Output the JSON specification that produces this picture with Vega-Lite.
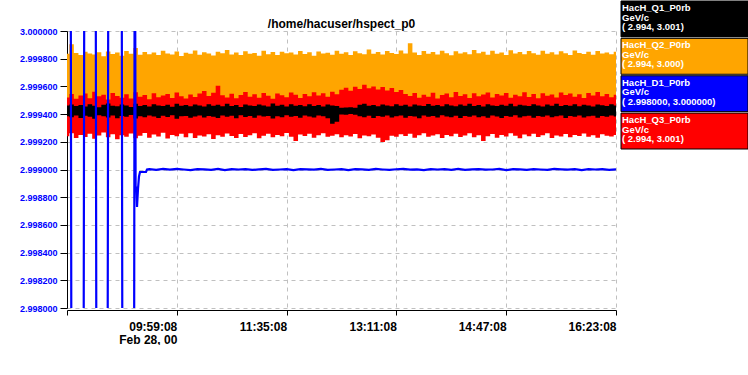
{
  "$schema": "https://vega.github.io/schema/vega-lite/v6.json",
  "padding": {"left": 19, "top": 0, "right": 0, "bottom": 0},
  "config": {
    "view": {"stroke": null},
    "font": "Liberation Sans",
    "concat": {"spacing": 3}
  },
  "datasets": {
    "bands": [
      {"t":"2000-02-28T08:23:08","oh":2.999835,"ol":2.99949,"rh":2.99952,"rl":2.99924,"kh":2.999462,"kl":2.999385},
      {"t":"2000-02-28T08:27:08","oh":2.999905,"ol":2.999485,"rh":2.999545,"rl":2.999262,"kh":2.99947,"kl":2.999378},
      {"t":"2000-02-28T08:31:08","oh":2.999842,"ol":2.999492,"rh":2.99951,"rl":2.999228,"kh":2.999458,"kl":2.99939},
      {"t":"2000-02-28T08:35:08","oh":2.999826,"ol":2.999488,"rh":2.999535,"rl":2.99925,"kh":2.999466,"kl":2.999372},
      {"t":"2000-02-28T08:39:08","oh":2.99985,"ol":2.999495,"rh":2.999548,"rl":2.999235,"kh":2.999455,"kl":2.999388},
      {"t":"2000-02-28T08:43:08","oh":2.999838,"ol":2.99948,"rh":2.999515,"rl":2.999258,"kh":2.999472,"kl":2.99938},
      {"t":"2000-02-28T08:47:08","oh":2.99983,"ol":2.99949,"rh":2.999562,"rl":2.999222,"kh":2.99946,"kl":2.999366},
      {"t":"2000-02-28T08:51:08","oh":2.999846,"ol":2.999486,"rh":2.999528,"rl":2.999245,"kh":2.99945,"kl":2.999392},
      {"t":"2000-02-28T08:55:08","oh":2.999818,"ol":2.999494,"rh":2.99954,"rl":2.999268,"kh":2.999468,"kl":2.999384},
      {"t":"2000-02-28T08:59:08","oh":2.999852,"ol":2.999482,"rh":2.999506,"rl":2.999232,"kh":2.999476,"kl":2.999375},
      {"t":"2000-02-28T09:03:08","oh":2.999834,"ol":2.99949,"rh":2.999552,"rl":2.999255,"kh":2.999461,"kl":2.999389},
      {"t":"2000-02-28T09:07:08","oh":2.999844,"ol":2.999488,"rh":2.99953,"rl":2.999218,"kh":2.999457,"kl":2.99937},
      {"t":"2000-02-28T09:11:08","oh":2.999822,"ol":2.999492,"rh":2.999518,"rl":2.999248,"kh":2.999469,"kl":2.999386},
      {"t":"2000-02-28T09:15:08","oh":2.999856,"ol":2.999484,"rh":2.999544,"rl":2.999236,"kh":2.999463,"kl":2.999381},
      {"t":"2000-02-28T09:19:08","oh":2.999836,"ol":2.99949,"rh":2.999512,"rl":2.99926,"kh":2.999452,"kl":2.999393},
      {"t":"2000-02-28T09:23:08","oh":2.999878,"ol":2.999486,"rh":2.999558,"rl":2.999226,"kh":2.999474,"kl":2.999368},
      {"t":"2000-02-28T09:27:08","oh":2.999828,"ol":2.999494,"rh":2.999526,"rl":2.999244,"kh":2.999459,"kl":2.999385},
      {"t":"2000-02-28T09:31:08","oh":2.999848,"ol":2.999482,"rh":2.999538,"rl":2.999264,"kh":2.999466,"kl":2.999377},
      {"t":"2000-02-28T09:35:08","oh":2.999832,"ol":2.99949,"rh":2.999508,"rl":2.99923,"kh":2.999455,"kl":2.99939},
      {"t":"2000-02-28T09:39:08","oh":2.999845,"ol":2.999488,"rh":2.99955,"rl":2.999252,"kh":2.999471,"kl":2.999382},
      {"t":"2000-02-28T09:43:08","oh":2.999826,"ol":2.999492,"rh":2.999522,"rl":2.999238,"kh":2.999462,"kl":2.999372},
      {"t":"2000-02-28T09:47:08","oh":2.999858,"ol":2.999484,"rh":2.999534,"rl":2.999266,"kh":2.999458,"kl":2.999388},
      {"t":"2000-02-28T09:51:08","oh":2.999838,"ol":2.99949,"rh":2.999546,"rl":2.999224,"kh":2.999468,"kl":2.999379},
      {"t":"2000-02-28T09:55:08","oh":2.99983,"ol":2.999486,"rh":2.999516,"rl":2.99925,"kh":2.999453,"kl":2.999391},
      {"t":"2000-02-28T09:59:08","oh":2.999852,"ol":2.999494,"rh":2.999556,"rl":2.99924,"kh":2.999475,"kl":2.999366},
      {"t":"2000-02-28T10:03:08","oh":2.99982,"ol":2.999482,"rh":2.999528,"rl":2.999258,"kh":2.99946,"kl":2.999384},
      {"t":"2000-02-28T10:07:08","oh":2.999843,"ol":2.99949,"rh":2.999512,"rl":2.999232,"kh":2.999465,"kl":2.999387},
      {"t":"2000-02-28T10:11:08","oh":2.999835,"ol":2.999488,"rh":2.999542,"rl":2.999262,"kh":2.999457,"kl":2.999374},
      {"t":"2000-02-28T10:15:08","oh":2.99986,"ol":2.999492,"rh":2.999524,"rl":2.999228,"kh":2.99947,"kl":2.999383},
      {"t":"2000-02-28T10:19:08","oh":2.999829,"ol":2.999484,"rh":2.999548,"rl":2.999246,"kh":2.999463,"kl":2.99939},
      {"t":"2000-02-28T10:23:08","oh":2.999847,"ol":2.99949,"rh":2.999566,"rl":2.999238,"kh":2.999455,"kl":2.999376},
      {"t":"2000-02-28T10:27:08","oh":2.999837,"ol":2.999486,"rh":2.99953,"rl":2.999254,"kh":2.999472,"kl":2.999386},
      {"t":"2000-02-28T10:31:08","oh":2.999824,"ol":2.999494,"rh":2.999554,"rl":2.99922,"kh":2.999461,"kl":2.99938},
      {"t":"2000-02-28T10:35:08","oh":2.99985,"ol":2.999482,"rh":2.999605,"rl":2.999248,"kh":2.999468,"kl":2.999372},
      {"t":"2000-02-28T10:39:08","oh":2.99984,"ol":2.99949,"rh":2.999536,"rl":2.999236,"kh":2.999456,"kl":2.999389},
      {"t":"2000-02-28T10:43:08","oh":2.999862,"ol":2.999488,"rh":2.99952,"rl":2.99926,"kh":2.999474,"kl":2.999381},
      {"t":"2000-02-28T10:47:08","oh":2.999831,"ol":2.999492,"rh":2.999547,"rl":2.999242,"kh":2.999459,"kl":2.999388},
      {"t":"2000-02-28T10:51:08","oh":2.999845,"ol":2.999484,"rh":2.999514,"rl":2.999228,"kh":2.999466,"kl":2.99937},
      {"t":"2000-02-28T10:55:08","oh":2.999827,"ol":2.99949,"rh":2.999538,"rl":2.999256,"kh":2.999452,"kl":2.999392},
      {"t":"2000-02-28T10:59:08","oh":2.999854,"ol":2.999486,"rh":2.99956,"rl":2.999234,"kh":2.99947,"kl":2.999379},
      {"t":"2000-02-28T11:03:08","oh":2.999836,"ol":2.999494,"rh":2.999526,"rl":2.999248,"kh":2.999462,"kl":2.999386},
      {"t":"2000-02-28T11:07:08","oh":2.999842,"ol":2.999482,"rh":2.999544,"rl":2.999262,"kh":2.999458,"kl":2.999374},
      {"t":"2000-02-28T11:11:08","oh":2.999822,"ol":2.99949,"rh":2.999518,"rl":2.999226,"kh":2.999469,"kl":2.99939},
      {"t":"2000-02-28T11:15:08","oh":2.999857,"ol":2.999488,"rh":2.999552,"rl":2.999244,"kh":2.999463,"kl":2.999383},
      {"t":"2000-02-28T11:19:08","oh":2.999833,"ol":2.999492,"rh":2.999532,"rl":2.999258,"kh":2.999455,"kl":2.999387},
      {"t":"2000-02-28T11:23:08","oh":2.999848,"ol":2.999484,"rh":2.99951,"rl":2.999232,"kh":2.999476,"kl":2.999368},
      {"t":"2000-02-28T11:27:08","oh":2.999826,"ol":2.99949,"rh":2.999548,"rl":2.99925,"kh":2.99946,"kl":2.999385},
      {"t":"2000-02-28T11:31:08","oh":2.999851,"ol":2.999486,"rh":2.999536,"rl":2.99924,"kh":2.999467,"kl":2.999378},
      {"t":"2000-02-28T11:35:08","oh":2.999839,"ol":2.999494,"rh":2.999522,"rl":2.999264,"kh":2.999454,"kl":2.999391},
      {"t":"2000-02-28T11:39:08","oh":2.999844,"ol":2.999482,"rh":2.999556,"rl":2.999236,"kh":2.999472,"kl":2.99938},
      {"t":"2000-02-28T11:43:08","oh":2.99983,"ol":2.99949,"rh":2.99954,"rl":2.999205,"kh":2.999461,"kl":2.999386},
      {"t":"2000-02-28T11:47:08","oh":2.999855,"ol":2.999488,"rh":2.999516,"rl":2.999252,"kh":2.999465,"kl":2.999373},
      {"t":"2000-02-28T11:51:08","oh":2.999834,"ol":2.999492,"rh":2.999545,"rl":2.999242,"kh":2.999457,"kl":2.999389},
      {"t":"2000-02-28T11:55:08","oh":2.999846,"ol":2.999484,"rh":2.999528,"rl":2.999258,"kh":2.999471,"kl":2.999382},
      {"t":"2000-02-28T11:59:08","oh":2.999821,"ol":2.99949,"rh":2.999558,"rl":2.99923,"kh":2.999459,"kl":2.999376},
      {"t":"2000-02-28T12:03:08","oh":2.999852,"ol":2.999486,"rh":2.999534,"rl":2.999248,"kh":2.999466,"kl":2.99939},
      {"t":"2000-02-28T12:07:08","oh":2.999838,"ol":2.999494,"rh":2.99955,"rl":2.999262,"kh":2.999455,"kl":2.999384},
      {"t":"2000-02-28T12:11:08","oh":2.999843,"ol":2.999482,"rh":2.999526,"rl":2.999236,"kh":2.99947,"kl":2.99937},
      {"t":"2000-02-28T12:15:08","oh":2.999829,"ol":2.99949,"rh":2.999562,"rl":2.999244,"kh":2.999462,"kl":2.99933},
      {"t":"2000-02-28T12:19:08","oh":2.999858,"ol":2.999488,"rh":2.999544,"rl":2.999254,"kh":2.999458,"kl":2.999345},
      {"t":"2000-02-28T12:23:08","oh":2.999836,"ol":2.999492,"rh":2.999575,"rl":2.999232,"kh":2.999446,"kl":2.999398},
      {"t":"2000-02-28T12:27:08","oh":2.999847,"ol":2.999484,"rh":2.99959,"rl":2.999248,"kh":2.999448,"kl":2.999396},
      {"t":"2000-02-28T12:31:08","oh":2.999826,"ol":2.99949,"rh":2.999568,"rl":2.999238,"kh":2.99945,"kl":2.9994},
      {"t":"2000-02-28T12:35:08","oh":2.999853,"ol":2.999486,"rh":2.999598,"rl":2.999256,"kh":2.999445,"kl":2.999395},
      {"t":"2000-02-28T12:39:08","oh":2.99984,"ol":2.999494,"rh":2.999582,"rl":2.999226,"kh":2.999468,"kl":2.999384},
      {"t":"2000-02-28T12:43:08","oh":2.999832,"ol":2.999482,"rh":2.999612,"rl":2.999246,"kh":2.999474,"kl":2.999378},
      {"t":"2000-02-28T12:47:08","oh":2.999866,"ol":2.99949,"rh":2.999586,"rl":2.99924,"kh":2.99946,"kl":2.999388},
      {"t":"2000-02-28T12:51:08","oh":2.999835,"ol":2.999488,"rh":2.9996,"rl":2.999252,"kh":2.999465,"kl":2.999372},
      {"t":"2000-02-28T12:55:08","oh":2.999848,"ol":2.999492,"rh":2.999578,"rl":2.99923,"kh":2.999457,"kl":2.999386},
      {"t":"2000-02-28T12:59:08","oh":2.99983,"ol":2.999484,"rh":2.999595,"rl":2.999198,"kh":2.99947,"kl":2.99938},
      {"t":"2000-02-28T13:03:08","oh":2.999855,"ol":2.99949,"rh":2.99957,"rl":2.999212,"kh":2.999463,"kl":2.999389},
      {"t":"2000-02-28T13:07:08","oh":2.999841,"ol":2.999486,"rh":2.999588,"rl":2.999244,"kh":2.999456,"kl":2.999376},
      {"t":"2000-02-28T13:11:08","oh":2.999834,"ol":2.999494,"rh":2.99956,"rl":2.999236,"kh":2.999472,"kl":2.999384},
      {"t":"2000-02-28T13:15:08","oh":2.99986,"ol":2.999482,"rh":2.999574,"rl":2.999254,"kh":2.999461,"kl":2.99939},
      {"t":"2000-02-28T13:19:08","oh":2.999838,"ol":2.99949,"rh":2.999546,"rl":2.999242,"kh":2.999467,"kl":2.999374},
      {"t":"2000-02-28T13:23:08","oh":2.999912,"ol":2.999488,"rh":2.99953,"rl":2.999258,"kh":2.999455,"kl":2.999387},
      {"t":"2000-02-28T13:27:08","oh":2.999844,"ol":2.999492,"rh":2.999552,"rl":2.99923,"kh":2.999469,"kl":2.999382},
      {"t":"2000-02-28T13:31:08","oh":2.999827,"ol":2.999484,"rh":2.999518,"rl":2.999248,"kh":2.999462,"kl":2.99937},
      {"t":"2000-02-28T13:35:08","oh":2.999856,"ol":2.99949,"rh":2.99954,"rl":2.999262,"kh":2.999458,"kl":2.999389},
      {"t":"2000-02-28T13:39:08","oh":2.999836,"ol":2.999486,"rh":2.999526,"rl":2.999236,"kh":2.999473,"kl":2.99938},
      {"t":"2000-02-28T13:43:08","oh":2.999849,"ol":2.999494,"rh":2.999554,"rl":2.999246,"kh":2.99946,"kl":2.999386},
      {"t":"2000-02-28T13:47:08","oh":2.999831,"ol":2.999482,"rh":2.999512,"rl":2.999254,"kh":2.999466,"kl":2.999375},
      {"t":"2000-02-28T13:51:08","oh":2.999858,"ol":2.99949,"rh":2.999538,"rl":2.999228,"kh":2.999456,"kl":2.999391},
      {"t":"2000-02-28T13:55:08","oh":2.99984,"ol":2.999488,"rh":2.999548,"rl":2.99925,"kh":2.999471,"kl":2.999383},
      {"t":"2000-02-28T13:59:08","oh":2.999825,"ol":2.999492,"rh":2.999522,"rl":2.99924,"kh":2.999463,"kl":2.999378},
      {"t":"2000-02-28T14:03:08","oh":2.999853,"ol":2.999484,"rh":2.99956,"rl":2.999258,"kh":2.999457,"kl":2.999388},
      {"t":"2000-02-28T14:07:08","oh":2.999837,"ol":2.99949,"rh":2.99953,"rl":2.999234,"kh":2.999469,"kl":2.999372},
      {"t":"2000-02-28T14:11:08","oh":2.999846,"ol":2.999486,"rh":2.999544,"rl":2.999246,"kh":2.999461,"kl":2.999386},
      {"t":"2000-02-28T14:15:08","oh":2.999832,"ol":2.999494,"rh":2.999516,"rl":2.999262,"kh":2.999475,"kl":2.99938},
      {"t":"2000-02-28T14:19:08","oh":2.999862,"ol":2.999482,"rh":2.99955,"rl":2.999232,"kh":2.999459,"kl":2.99939},
      {"t":"2000-02-28T14:23:08","oh":2.999839,"ol":2.99949,"rh":2.999528,"rl":2.999248,"kh":2.999466,"kl":2.999377},
      {"t":"2000-02-28T14:27:08","oh":2.99985,"ol":2.999488,"rh":2.999542,"rl":2.999205,"kh":2.999455,"kl":2.999385},
      {"t":"2000-02-28T14:31:08","oh":2.999828,"ol":2.999492,"rh":2.999556,"rl":2.99924,"kh":2.999472,"kl":2.999374},
      {"t":"2000-02-28T14:35:08","oh":2.999857,"ol":2.999484,"rh":2.99952,"rl":2.999256,"kh":2.999462,"kl":2.999389},
      {"t":"2000-02-28T14:39:08","oh":2.999835,"ol":2.99949,"rh":2.999546,"rl":2.99923,"kh":2.999458,"kl":2.999382},
      {"t":"2000-02-28T14:43:08","oh":2.999845,"ol":2.999486,"rh":2.999534,"rl":2.99925,"kh":2.999468,"kl":2.999371},
      {"t":"2000-02-28T14:47:08","oh":2.999826,"ol":2.999494,"rh":2.999552,"rl":2.999238,"kh":2.99946,"kl":2.999387},
      {"t":"2000-02-28T14:51:08","oh":2.999861,"ol":2.999482,"rh":2.999518,"rl":2.999262,"kh":2.999474,"kl":2.99938},
      {"t":"2000-02-28T14:55:08","oh":2.999838,"ol":2.99949,"rh":2.99954,"rl":2.999244,"kh":2.999456,"kl":2.999391},
      {"t":"2000-02-28T14:59:08","oh":2.999848,"ol":2.999488,"rh":2.999528,"rl":2.999226,"kh":2.999467,"kl":2.999376},
      {"t":"2000-02-28T15:03:08","oh":2.999833,"ol":2.999492,"rh":2.999558,"rl":2.999252,"kh":2.999462,"kl":2.999385},
      {"t":"2000-02-28T15:07:08","oh":2.999855,"ol":2.999484,"rh":2.999524,"rl":2.99924,"kh":2.999458,"kl":2.999388},
      {"t":"2000-02-28T15:11:08","oh":2.99984,"ol":2.99949,"rh":2.999546,"rl":2.999258,"kh":2.999471,"kl":2.999373},
      {"t":"2000-02-28T15:15:08","oh":2.999829,"ol":2.999486,"rh":2.999514,"rl":2.999234,"kh":2.999463,"kl":2.999386},
      {"t":"2000-02-28T15:19:08","oh":2.999858,"ol":2.999494,"rh":2.99955,"rl":2.999248,"kh":2.999455,"kl":2.999381},
      {"t":"2000-02-28T15:23:08","oh":2.999836,"ol":2.999482,"rh":2.999532,"rl":2.999262,"kh":2.999469,"kl":2.99939},
      {"t":"2000-02-28T15:27:08","oh":2.999847,"ol":2.99949,"rh":2.999542,"rl":2.999228,"kh":2.999461,"kl":2.999377},
      {"t":"2000-02-28T15:31:08","oh":2.999831,"ol":2.999488,"rh":2.99952,"rl":2.999246,"kh":2.999474,"kl":2.999384},
      {"t":"2000-02-28T15:35:08","oh":2.999854,"ol":2.999492,"rh":2.999556,"rl":2.999238,"kh":2.999458,"kl":2.999389},
      {"t":"2000-02-28T15:39:08","oh":2.999839,"ol":2.999484,"rh":2.999538,"rl":2.999256,"kh":2.999466,"kl":2.999372},
      {"t":"2000-02-28T15:43:08","oh":2.999826,"ol":2.99949,"rh":2.999548,"rl":2.999232,"kh":2.99946,"kl":2.999387},
      {"t":"2000-02-28T15:47:08","oh":2.999859,"ol":2.999486,"rh":2.999526,"rl":2.99925,"kh":2.999471,"kl":2.99938},
      {"t":"2000-02-28T15:51:08","oh":2.999842,"ol":2.999494,"rh":2.999544,"rl":2.999242,"kh":2.999457,"kl":2.99939},
      {"t":"2000-02-28T15:55:08","oh":2.999834,"ol":2.999482,"rh":2.999516,"rl":2.99926,"kh":2.999468,"kl":2.999376},
      {"t":"2000-02-28T15:59:08","oh":2.999851,"ol":2.99949,"rh":2.999552,"rl":2.999236,"kh":2.999462,"kl":2.999385},
      {"t":"2000-02-28T16:03:08","oh":2.999828,"ol":2.999488,"rh":2.999534,"rl":2.999248,"kh":2.999455,"kl":2.999388},
      {"t":"2000-02-28T16:07:08","oh":2.999856,"ol":2.999492,"rh":2.99956,"rl":2.99923,"kh":2.99947,"kl":2.999374},
      {"t":"2000-02-28T16:11:08","oh":2.999837,"ol":2.999484,"rh":2.999528,"rl":2.999254,"kh":2.999464,"kl":2.999386},
      {"t":"2000-02-28T16:15:08","oh":2.999845,"ol":2.99949,"rh":2.999546,"rl":2.999244,"kh":2.999459,"kl":2.999381},
      {"t":"2000-02-28T16:19:08","oh":2.999832,"ol":2.999486,"rh":2.999522,"rl":2.999238,"kh":2.999472,"kl":2.999389},
      {"t":"2000-02-28T16:23:08","oh":2.99985,"ol":2.999494,"rh":2.99954,"rl":2.99925,"kh":2.999463,"kl":2.999383}
    ],
    "d1": [
      {"t":"2000-02-28T08:23:08","v":3.0015},
      {"t":"2000-02-28T08:26:12","v":3.0015},
      {"t":"2000-02-28T08:27:04","v":2.997},
      {"t":"2000-02-28T08:37:34","v":2.997},
      {"t":"2000-02-28T08:38:26","v":3.0015},
      {"t":"2000-02-28T08:48:03","v":3.0015},
      {"t":"2000-02-28T08:48:55","v":2.997},
      {"t":"2000-02-28T08:58:33","v":2.997},
      {"t":"2000-02-28T08:59:25","v":3.0015},
      {"t":"2000-02-28T09:10:47","v":3.0015},
      {"t":"2000-02-28T09:11:39","v":2.997},
      {"t":"2000-02-28T09:21:43","v":2.997},
      {"t":"2000-02-28T09:22:25","v":3.0015},
      {"t":"2000-02-28T09:23:07","v":2.99887},
      {"t":"2000-02-28T09:23:49","v":2.99887},
      {"t":"2000-02-28T09:24:20","v":2.99873},
      {"t":"2000-02-28T09:25:13","v":2.99886},
      {"t":"2000-02-28T09:26:05","v":2.99895},
      {"t":"2000-02-28T09:26:58","v":2.998982},
      {"t":"2000-02-28T09:32:12","v":2.998982},
      {"t":"2000-02-28T09:33:05","v":2.999},
      {"t":"2000-02-28T09:35:08","v":2.999002},
      {"t":"2000-02-28T09:41:08","v":2.998997},
      {"t":"2000-02-28T09:47:08","v":2.999004},
      {"t":"2000-02-28T09:53:08","v":2.998999},
      {"t":"2000-02-28T09:59:08","v":2.999005},
      {"t":"2000-02-28T10:05:08","v":2.999},
      {"t":"2000-02-28T10:11:08","v":2.998996},
      {"t":"2000-02-28T10:17:08","v":2.999003},
      {"t":"2000-02-28T10:23:08","v":2.999001},
      {"t":"2000-02-28T10:29:08","v":2.998998},
      {"t":"2000-02-28T10:35:08","v":2.999004},
      {"t":"2000-02-28T10:41:08","v":2.998995},
      {"t":"2000-02-28T10:47:08","v":2.999002},
      {"t":"2000-02-28T10:53:08","v":2.999},
      {"t":"2000-02-28T10:59:08","v":2.999003},
      {"t":"2000-02-28T11:05:08","v":2.998997},
      {"t":"2000-02-28T11:11:08","v":2.999001},
      {"t":"2000-02-28T11:17:08","v":2.999005},
      {"t":"2000-02-28T11:23:08","v":2.998998},
      {"t":"2000-02-28T11:29:08","v":2.999},
      {"t":"2000-02-28T11:35:08","v":2.999002},
      {"t":"2000-02-28T11:41:08","v":2.998996},
      {"t":"2000-02-28T11:47:08","v":2.999003},
      {"t":"2000-02-28T11:53:08","v":2.999001},
      {"t":"2000-02-28T11:59:08","v":2.998999},
      {"t":"2000-02-28T12:05:08","v":2.999004},
      {"t":"2000-02-28T12:11:08","v":2.998997},
      {"t":"2000-02-28T12:17:08","v":2.999},
      {"t":"2000-02-28T12:23:08","v":2.999002},
      {"t":"2000-02-28T12:29:08","v":2.998995},
      {"t":"2000-02-28T12:35:08","v":2.999003},
      {"t":"2000-02-28T12:41:08","v":2.999001},
      {"t":"2000-02-28T12:47:08","v":2.998998},
      {"t":"2000-02-28T12:53:08","v":2.999004},
      {"t":"2000-02-28T12:59:08","v":2.999},
      {"t":"2000-02-28T13:05:08","v":2.998997},
      {"t":"2000-02-28T13:11:08","v":2.999002},
      {"t":"2000-02-28T13:17:08","v":2.999005},
      {"t":"2000-02-28T13:23:08","v":2.998999},
      {"t":"2000-02-28T13:29:08","v":2.999001},
      {"t":"2000-02-28T13:35:08","v":2.998996},
      {"t":"2000-02-28T13:41:08","v":2.999003},
      {"t":"2000-02-28T13:47:08","v":2.999},
      {"t":"2000-02-28T13:53:08","v":2.999002},
      {"t":"2000-02-28T13:59:08","v":2.998998},
      {"t":"2000-02-28T14:05:08","v":2.999004},
      {"t":"2000-02-28T14:11:08","v":2.998997},
      {"t":"2000-02-28T14:17:08","v":2.999001},
      {"t":"2000-02-28T14:23:08","v":2.999003},
      {"t":"2000-02-28T14:29:08","v":2.998999},
      {"t":"2000-02-28T14:35:08","v":2.999},
      {"t":"2000-02-28T14:41:08","v":2.999005},
      {"t":"2000-02-28T14:47:08","v":2.998996},
      {"t":"2000-02-28T14:53:08","v":2.999002},
      {"t":"2000-02-28T14:59:08","v":2.999001},
      {"t":"2000-02-28T15:05:08","v":2.998998},
      {"t":"2000-02-28T15:11:08","v":2.999003},
      {"t":"2000-02-28T15:17:08","v":2.999},
      {"t":"2000-02-28T15:23:08","v":2.998997},
      {"t":"2000-02-28T15:29:08","v":2.999004},
      {"t":"2000-02-28T15:35:08","v":2.999001},
      {"t":"2000-02-28T15:41:08","v":2.998999},
      {"t":"2000-02-28T15:47:08","v":2.999002},
      {"t":"2000-02-28T15:53:08","v":2.998996},
      {"t":"2000-02-28T15:59:08","v":2.999003},
      {"t":"2000-02-28T16:05:08","v":2.999},
      {"t":"2000-02-28T16:11:08","v":2.999002},
      {"t":"2000-02-28T16:17:08","v":2.998998},
      {"t":"2000-02-28T16:23:08","v":2.999001}
    ],
    "legend": [
      {"name":"HacH_Q1_P0rb","label":"HacH_Q1_P0rb\nGeV/c\n( 2.994, 3.001)"},
      {"name":"HacH_Q2_P0rb","label":"HacH_Q2_P0rb\nGeV/c\n( 2.994, 3.000)"},
      {"name":"HacH_D1_P0rb","label":"HacH_D1_P0rb\nGeV/c\n( 2.998000, 3.000000)"},
      {"name":"HacH_Q3_P0rb","label":"HacH_Q3_P0rb\nGeV/c\n( 2.994, 3.001)"}
    ]
  },
  "hconcat": [
    {
      "width": 549,
      "height": 277,
      "title": {"text": ["", "/home/hacuser/hspect_p0"], "fontSize": 12, "fontWeight": "bold", "color": "black", "lineHeight": 16, "offset": -4, "anchor": "middle", "frame": "group"},
      "layer": [
        {
          "data": {"name": "bands"},
          "mark": {"type": "area", "interpolate": "step", "color": "#ffa500", "clip": true},
          "encoding": {
            "x": {
              "field": "t", "type": "temporal",
              "scale": {"domain": [
                {"year": 2000, "month": 2, "date": 28, "hours": 8, "minutes": 23, "seconds": 8},
                {"year": 2000, "month": 2, "date": 28, "hours": 16, "minutes": 23, "seconds": 8}
              ]},
              "axis": {
                "title": null,
                "values": [
                  {"year": 2000, "month": 2, "date": 28, "hours": 8, "minutes": 23, "seconds": 8},
                  {"year": 2000, "month": 2, "date": 28, "hours": 9, "minutes": 59, "seconds": 8},
                  {"year": 2000, "month": 2, "date": 28, "hours": 11, "minutes": 35, "seconds": 8},
                  {"year": 2000, "month": 2, "date": 28, "hours": 13, "minutes": 11, "seconds": 8},
                  {"year": 2000, "month": 2, "date": 28, "hours": 14, "minutes": 47, "seconds": 8},
                  {"year": 2000, "month": 2, "date": 28, "hours": 16, "minutes": 23, "seconds": 8}
                ],
                "tickCount": 6,
                "labelExpr": "hours(datum.value) == 8 ? '' : (hours(datum.value) == 9 ? [timeFormat(datum.value, '%H:%M:%S'), 'Feb 28, 00'] : timeFormat(datum.value, '%H:%M:%S'))",
                "labelAlign": "right",
                "labelFontSize": 12,
                "labelFontWeight": "bold",
                "labelColor": "black",
                "labelLineHeight": 13,
                "labelPadding": 6,
                "labelFlush": false,
                "labelOverlap": false,
                "tickSize": 5,
                "tickColor": "black",
                "domainColor": "black",
                "offset": 2,
                "grid": true,
                "gridColor": "#c0c0c0",
                "gridDash": [4, 4]
              }
            },
            "y": {
              "field": "ol", "type": "quantitative",
              "scale": {"domain": [2.998, 3.0], "nice": false, "zero": false},
              "axis": {
                "title": null,
                "values": [2.998, 2.9982, 2.9984, 2.9986, 2.9988, 2.999, 2.9992, 2.9994, 2.9996, 2.9998, 3.0],
                "tickCount": 11,
                "format": ".6f",
                "labelFontSize": 9,
                "labelFontWeight": "bold",
                "labelColor": "#0000ff",
                "labelPadding": 3,
                "labelOverlap": false,
                "labelFlush": false,
                "tickSize": 7,
                "tickColor": "black",
                "domainColor": "black",
                "grid": true,
                "gridColor": "#c0c0c0",
                "gridDash": [4, 4]
              }
            },
            "y2": {"field": "oh"}
          }
        },
        {
          "data": {"name": "bands"},
          "mark": {"type": "area", "interpolate": "step", "color": "#ff0000", "clip": true},
          "encoding": {
            "x": {"field": "t", "type": "temporal"},
            "y": {"field": "rl", "type": "quantitative"},
            "y2": {"field": "rh"}
          }
        },
        {
          "data": {"name": "bands"},
          "mark": {"type": "area", "interpolate": "step", "color": "#000000", "clip": true},
          "encoding": {
            "x": {"field": "t", "type": "temporal"},
            "y": {"field": "kl", "type": "quantitative"},
            "y2": {"field": "kh"}
          }
        },
        {
          "data": {"name": "d1"},
          "mark": {"type": "line", "color": "#0000ff", "strokeWidth": 2.2, "clip": true},
          "encoding": {
            "x": {"field": "t", "type": "temporal"},
            "y": {"field": "v", "type": "quantitative"}
          }
        }
      ]
    },
    {
      "width": 127,
      "height": 148,
      "data": {"name": "legend"},
      "layer": [
        {
          "mark": {"type": "rect", "stroke": "black", "strokeWidth": 1, "yOffset": -30},
          "encoding": {
            "y": {"field": "name", "type": "nominal", "sort": null, "axis": null, "scale": {"paddingInner": 0.04, "paddingOuter": 0}},
            "x": {"datum": 0, "type": "quantitative", "scale": {"domain": [0, 1]}, "axis": null},
            "x2": {"datum": 1},
            "color": {"field": "name", "type": "nominal", "sort": null, "legend": null,
              "scale": {"domain": ["HacH_Q1_P0rb", "HacH_Q2_P0rb", "HacH_D1_P0rb", "HacH_Q3_P0rb"], "range": ["#000000", "#ffa500", "#0000ff", "#ff0000"]}}
          }
        },
        {
          "mark": {"type": "text", "align": "left", "baseline": "top", "lineBreak": "\n", "lineHeight": 9.5, "color": "white", "fontWeight": "bold", "fontSize": 9.5, "dx": 1, "yOffset": -30, "dy": 2},
          "encoding": {
            "y": {"field": "name", "type": "nominal", "sort": null, "axis": null, "bandPosition": 0},
            "x": {"datum": 0, "type": "quantitative", "axis": null},
            "text": {"field": "label"}
          }
        }
      ]
    }
  ]
}
